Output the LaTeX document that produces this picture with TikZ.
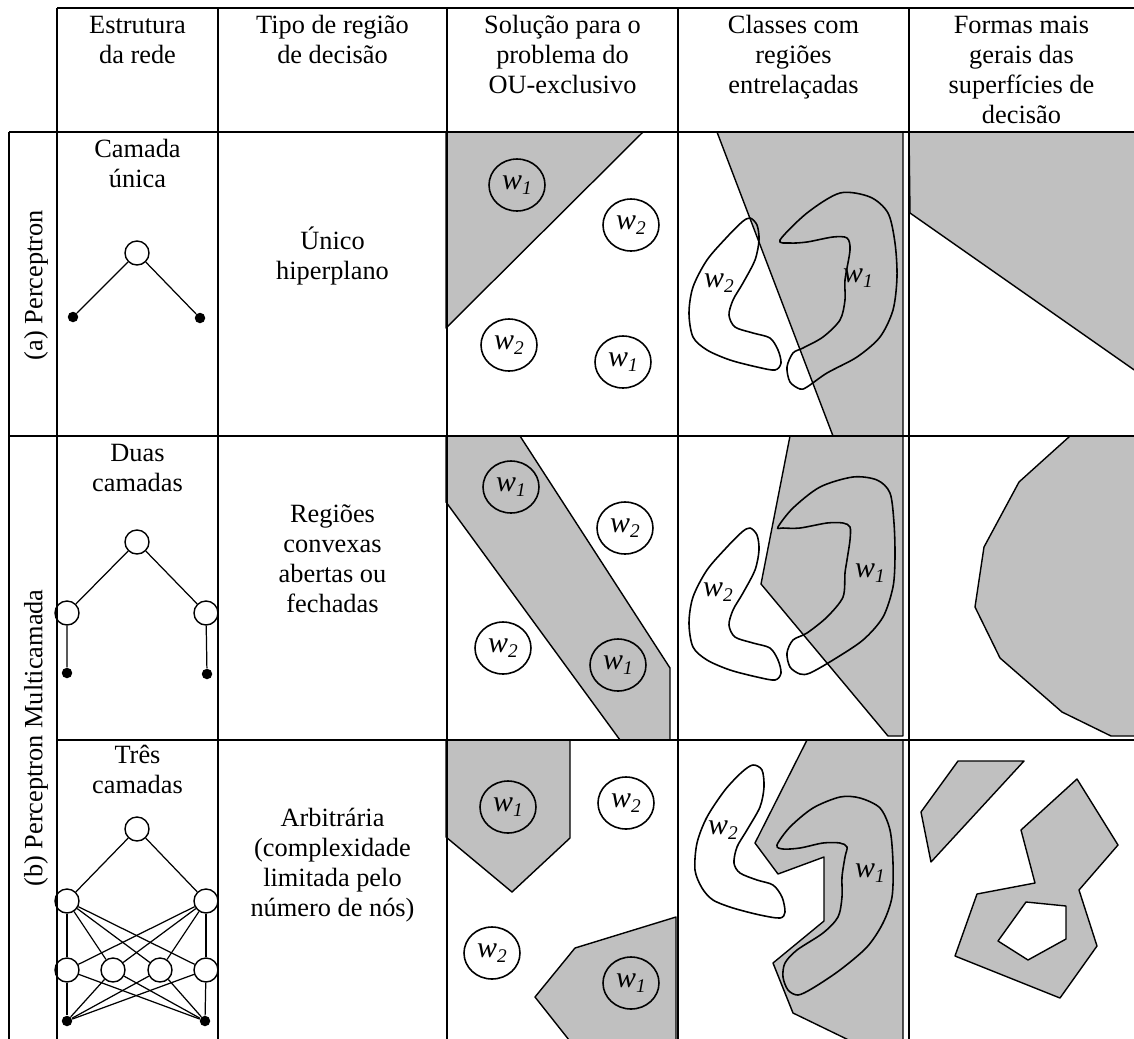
\documentclass[tikz,border=0pt]{standalone}
\usepackage{fontspec}
\setmainfont{Liberation Serif}
\usetikzlibrary{shapes.geometric}
\definecolor{regiongray}{RGB}{192,192,192}
% class label: italic w with an italic index
\newcommand{\wlab}[1]{{\fontsize{17}{17}\selectfont\itshape w}\raisebox{-2.5pt}{\fontsize{11}{11}\selectfont\itshape #1}}

\begin{document}
\begin{tikzpicture}[x=0.02cm,y=-0.02cm,
  grid/.style={line width=1.1pt},
  region/.style={fill=regiongray,draw=black,line width=0.8pt,line join=round},
  blob/.style={draw=black,line width=0.9pt},
  cls/.style={ellipse,draw,line width=0.9pt,minimum width=1.12cm,minimum height=1.04cm,inner sep=0pt},
  neuron/.style={circle,draw,fill=white,line width=0.8pt,minimum size=0.48cm,inner sep=0pt},
  inp/.style={circle,fill=black,minimum size=0.21cm,inner sep=0pt},
  link/.style={line width=0.7pt},
  % multi-line cell text, placed by the baseline of its last line
  txt/.style={align=center,font=\fontsize{15}{17}\selectfont,inner sep=0pt,anchor=base},
  side/.style={font=\fontsize{15}{17}\selectfont,inner sep=0pt,rotate=90}
]
\useasboundingbox (0,0) rectangle (1134,1039);
\clip (0,0) rectangle (1134,1039);

% ---------- header ----------
\node[txt] (h1) at (137.5,63) {Estrutura\\da rede};
\node[txt] (h2) at (332.5,63) {Tipo de região\\de decisão};
\node[txt] (h3) at (562.5,93) {Solução para o\\problema do\\OU-exclusivo};
\node[txt] (h4) at (793.5,93) {Classes com\\regiões\\entrelaçadas};
\node[txt] (h5) at (1021.5,123) {Formas mais\\gerais das\\superfícies de\\decisão};

% ---------- row labels ----------
\node[side] (ra) at (36,285) {(a) Perceptron};
\node[side] (rb) at (36,738) {(b) Perceptron Multicamada};

% ---------- network structures ----------
\node[txt] (t1) at (137.5,187) {Camada\\única};
\node[neuron] (a0) at (137,253) {};
\node[inp] (ai1) at (73,317) {};
\node[inp] (ai2) at (200,318) {};
\draw[link] (a0) -- (ai1) (a0) -- (ai2);

\node[txt] (t2) at (137.5,491) {Duas\\camadas};
\node[neuron] (b0) at (137,542) {};
\node[neuron] (b1) at (67,613) {};
\node[neuron] (b2) at (206,613) {};
\node[inp] (bi1) at (67,673) {};
\node[inp] (bi2) at (207,674) {};
\draw[link] (b0) -- (b1) (b0) -- (b2) (b1) -- (bi1) (b2) -- (bi2);

\node[txt] (t3) at (137.5,793) {Três\\camadas};
\node[neuron] (c0) at (137,829) {};
\node[neuron] (c1) at (67,901) {};
\node[neuron] (c2) at (206,901) {};
\node[neuron] (d1) at (67,970) {};
\node[neuron] (d2) at (113,970) {};
\node[neuron] (d3) at (160,970) {};
\node[neuron] (d4) at (206,970) {};
\node[inp] (ci1) at (67,1021) {};
\node[inp] (ci2) at (205,1021) {};
\draw[link] (c0) -- (c1) (c0) -- (c2);
\foreach \h in {c1,c2}{\foreach \k in {d1,d2,d3,d4}{\draw[link] (\h) -- (\k);}}
\foreach \k in {d1,d2,d3,d4}{\foreach \i in {ci1,ci2}{\draw[link] (\k) -- (\i);}}

% ---------- decision region types ----------
\node[txt] (k1) at (332.5,279) {Único\\hiperplano};
\node[txt] (k2) at (332.5,612) {Regiões\\convexas\\abertas ou\\fechadas};
\node[txt] (k3) at (332.5,916) {Arbitrária\\(complexidade\\limitada pelo\\número de nós)};

% ---------- XOR problem ----------
\draw[region] (446,132) -- (643,132) -- (446,328) -- cycle;
\node[cls] (x11) at (517,185) {\wlab{1}};
\node[cls] (x12) at (631,225) {\wlab{2}};
\node[cls] (x13) at (509,345) {\wlab{2}};
\node[cls] (x14) at (623,362) {\wlab{1}};

\draw[region] (446,436) -- (520,436) -- (670,668) -- (670,740) -- (620,740) -- (446,502) -- cycle;
\node[cls] (x21) at (511,487) {\wlab{1}};
\node[cls] (x22) at (625,528) {\wlab{2}};
\node[cls] (x23) at (503,648) {\wlab{2}};
\node[cls] (x24) at (618,665) {\wlab{1}};

\draw[region] (446,740) -- (570,740) -- (570,838) -- (512,892) -- (446,837) -- cycle;
\draw[region] (575,948) -- (676,917) -- (676,1045) -- (573,1045) -- (535,997) -- cycle;
\node[cls] (x31) at (508,807) {\wlab{1}};
\node[cls] (x32) at (626,803) {\wlab{2}};
\node[cls] (x33) at (492,953) {\wlab{2}};
\node[cls] (x34) at (631,983) {\wlab{1}};

% ---------- meshed classes ----------
\draw[region] (717,132) -- (903,132) -- (903,436) -- (833,436) -- cycle;
\draw[blob] plot[smooth cycle] coordinates {(750,218) (757,225) (759,240) (755,260) (743,283) (733,300) (729,315) (735,327) (753,333) (770,338) (778,350) (781,363) (775,370) (757,367) (730,360) (707,350) (693,337) (689,313) (693,287) (707,260) (727,237) (742,222)};
\draw[blob] plot[smooth cycle] coordinates {(780,240) (807,213) (840,193) (870,197) (888,213) (895,243) (897,277) (893,310) (880,337) (857,357) (827,373) (807,387) (800,389) (790,382) (787,367) (793,353) (803,348) (823,337) (840,320) (845,300) (845,280) (850,250) (847,238) (833,237) (807,242) (790,243)};
\node (m12) at (719,283) {\wlab{2}};
\node (m11) at (858,278) {\wlab{1}};

\draw[region] (790,436) -- (903,436) -- (903,736) -- (888,736) -- (761,584) -- cycle;
\draw[blob] plot[smooth cycle] coordinates {(750,528) (757,535) (759,550) (755,570) (743,593) (733,610) (729,625) (735,637) (753,643) (770,648) (778,660) (781,673) (775,680) (757,677) (730,670) (707,660) (693,647) (689,623) (693,597) (707,570) (727,547) (742,532)};
\draw[blob] plot[smooth cycle] coordinates {(778,527) (793,508) (820,487) (853,477) (877,480) (890,493) (894,523) (895,557) (893,587) (883,617) (863,640) (833,660) (810,673) (800,674) (790,667) (787,653) (793,640) (807,633) (827,617) (843,597) (845,573) (847,560) (850,540) (850,527) (843,523) (827,523) (800,528) (783,528)};
\node (m22) at (718,592) {\wlab{2}};
\node (m21) at (870,573) {\wlab{1}};

\draw[region] (807,740) -- (903,740) -- (903,1045) -- (859,1045) -- (793,1013) -- (773,963) -- (824,921) -- (824,857) -- (778,874) -- (755,843) -- cycle;
\draw[blob] plot[smooth cycle] coordinates {(753,765) (762,770) (764,787) (760,807) (747,830) (737,847) (734,863) (740,873) (757,880) (773,885) (782,897) (785,912) (780,918) (760,915) (733,908) (713,900) (702,888) (695,870) (697,843) (707,817) (725,790) (742,772)};
\draw[blob] plot[smooth cycle] coordinates {(777,845) (790,827) (813,808) (840,797) (860,798) (880,808) (890,830) (893,863) (892,897) (883,923) (867,947) (840,970) (813,988) (798,995) (788,990) (783,977) (785,963) (797,950) (823,933) (838,917) (842,897) (842,877) (845,857) (847,847) (840,843) (823,843) (800,848) (783,849)};
\node (m32) at (723,830) {\wlab{2}};
\node (m31) at (870,873) {\wlab{1}};

% ---------- general decision surfaces ----------
\draw[region] (909,132) -- (1140,132) -- (1140,374) -- (910,213) -- cycle;
\draw[region] (1070,436) -- (1140,436) -- (1140,736) -- (1111,736) -- (1062,712) -- (1000,658) -- (975,607) -- (984,547) -- (1019,482) -- cycle;
\draw[region] (958,761) -- (1024,761) -- (931,862) -- (921,812) -- cycle;
\draw[region,even odd rule] (1021,830) -- (1077,779) -- (1118,845) -- (1079,890) -- (1097,946) -- (1060,998) -- (955,956) -- (977,894) -- (1035,883) -- cycle
  (1026,902) -- (1066,906) -- (1066,939) -- (1028,960) -- (998,941) -- cycle;

% ---------- table rules ----------
\draw[grid] (57,8) -- (1140,8);
\draw[grid] (9,132) -- (1140,132);
\draw[grid] (9,436) -- (1140,436);
\draw[grid] (57,740) -- (1140,740);
\draw[grid] (9,132) -- (9,1045);
\foreach \cx in {57,218,447,678,909}{\draw[grid] (\cx,8) -- (\cx,1045);}
\end{tikzpicture}
\end{document}
